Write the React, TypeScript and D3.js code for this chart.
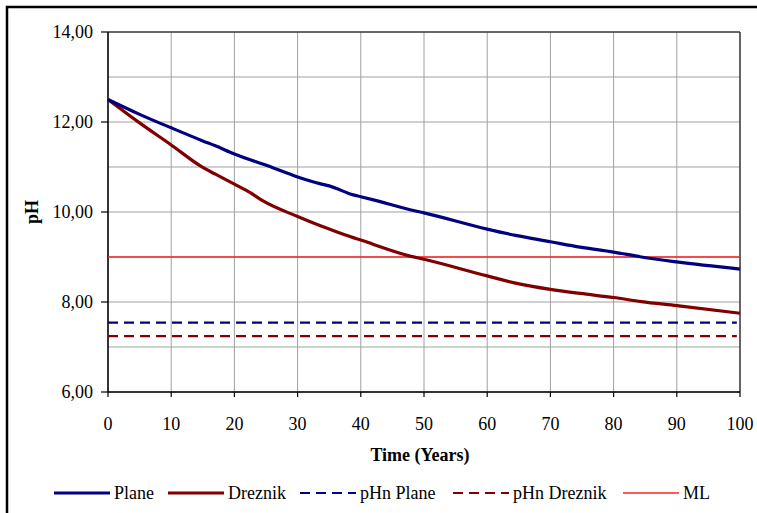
import * as React from 'react';
import { scaleLinear, line, range, curveMonotoneX } from 'd3';

// years sampled along the curves
const years = [0, 5, 10, 15, 17, 20, 22.5, 24.6, 30, 33.5, 35, 38.8, 40, 42, 47.8, 50, 60, 64.5, 70, 74.7, 80, 84.4, 90, 100];
const plane = [12.5, 12.17, 11.87, 11.58, 11.47, 11.29, 11.16, 11.06, 10.78, 10.63, 10.58, 10.38, 10.34, 10.27, 10.05, 9.98, 9.62, 9.48, 9.34, 9.22, 9.11, 9.0, 8.89, 8.73];
const dreznik = [12.5, 11.98, 11.49, 10.99, 10.84, 10.62, 10.43, 10.24, 9.9, 9.7, 9.62, 9.43, 9.38, 9.28, 9.02, 8.95, 8.58, 8.42, 8.28, 8.19, 8.1, 8.01, 7.92, 7.75];
const pHnPlane = 7.54;
const pHnDreznik = 7.24;
const mlLevel = 9.0;

const xTicks = [0, 10, 20, 30, 40, 50, 60, 70, 80, 90, 100];
const yTicks = [6, 8, 10, 12, 14];
const yGrid = range(6, 15, 1);

const legendItems = [
    { label: 'Plane', color: '#000080', dash: '', width: 3.2, x: 54 },
    { label: 'Dreznik', color: '#800000', dash: '', width: 3.2, x: 168 },
    { label: 'pHn Plane', color: '#000080', dash: '10,6', width: 2.2, x: 300 },
    { label: 'pHn Dreznik', color: '#800000', dash: '10,6', width: 2.2, x: 453 },
    { label: 'ML', color: '#ff2020', dash: '', width: 1.6, x: 623 },
];

const font = '"Liberation Serif", "Times New Roman", serif';

const App = () => {
    const margin = { left: 108, top: 32, right: 740, bottom: 392 };
    const x = scaleLinear().domain([0, 100]).range([margin.left, margin.right]);
    const y = scaleLinear().domain([6, 14]).range([margin.bottom, margin.top]);

    const lineGen = line<[number, number]>()
        .x((d) => x(d[0]))
        .y((d) => y(d[1]))
        .curve(curveMonotoneX);

    const planePath = lineGen(years.map((t, i) => [t, plane[i]]));
    const dreznikPath = lineGen(years.map((t, i) => [t, dreznik[i]]));

    return (
        <svg width={757} height={513} style={{ position: 'absolute', left: 0, top: 0, background: '#fff' }}>
            <rect x={7} y={7} width={800} height={600} fill="#fff" stroke="#000" strokeWidth={2.5} />

            {/* grid */}
            {yGrid.map((v) => (
                <line key={'gy' + v} x1={x(0)} x2={x(100)} y1={y(v)} y2={y(v)} stroke="#a0a0a0" strokeWidth={1} />
            ))}
            {xTicks.map((v) => (
                <line key={'gx' + v} x1={x(v)} x2={x(v)} y1={y(6)} y2={y(14)} stroke="#a0a0a0" strokeWidth={1} />
            ))}
            <line x1={x(0)} x2={x(100)} y1={y(14)} y2={y(14)} stroke="#000" strokeWidth={1.2} />
            <line x1={x(100)} x2={x(100)} y1={y(6)} y2={y(14)} stroke="#404040" strokeWidth={1.5} />

            {/* axes */}
            <line x1={x(0)} x2={x(0)} y1={y(6)} y2={y(14)} stroke="#000" strokeWidth={1.5} />
            <line x1={x(0)} x2={x(100)} y1={y(6)} y2={y(6)} stroke="#000" strokeWidth={1.5} />
            {yTicks.map((v) => (
                <g key={'ty' + v}>
                    <line x1={x(0) - 7} x2={x(0)} y1={y(v)} y2={y(v)} stroke="#000" strokeWidth={1.2} />
                    <text x={x(0) - 15} y={y(v)} dy="0.33em" textAnchor="end" fontFamily={font} fontSize={18}>
                        {v.toFixed(2).replace('.', ',')}
                    </text>
                </g>
            ))}
            {xTicks.map((v) => (
                <g key={'tx' + v}>
                    <line x1={x(v)} x2={x(v)} y1={y(6)} y2={y(6) + 5} stroke="#000" strokeWidth={1.2} />
                    <text x={x(v)} y={430} textAnchor="middle" fontFamily={font} fontSize={18}>
                        {v}
                    </text>
                </g>
            ))}

            {/* reference lines */}
            <line x1={x(0)} x2={x(99.5)} y1={y(pHnPlane)} y2={y(pHnPlane)} stroke="#000080" strokeWidth={2.2} strokeDasharray="10,6" />
            <line x1={x(0)} x2={x(99.5)} y1={y(pHnDreznik)} y2={y(pHnDreznik)} stroke="#800000" strokeWidth={2.2} strokeDasharray="10,6" />
            <line x1={x(0)} x2={x(100)} y1={y(mlLevel)} y2={y(mlLevel)} stroke="#ff2020" strokeWidth={1.6} />

            {/* series */}
            <path d={dreznikPath || ''} fill="none" stroke="#800000" strokeWidth={3.2} strokeLinejoin="round" />
            <path d={planePath || ''} fill="none" stroke="#000080" strokeWidth={3.2} strokeLinejoin="round" />

            {/* titles */}
            <text x={420} y={461} textAnchor="middle" fontFamily={font} fontSize={18} fontWeight="bold">
                Time (Years)
            </text>
            <text transform="translate(38,212) rotate(-90)" textAnchor="middle" fontFamily={font} fontSize={18} fontWeight="bold">
                pH
            </text>

            {/* legend */}
            {legendItems.map((d) => (
                <g key={d.label}>
                    <line x1={d.x} x2={d.x + 56} y1={493} y2={493} stroke={d.color} strokeWidth={d.width} strokeDasharray={d.dash || undefined} />
                    <text x={d.x + 60} y={499} fontFamily={font} fontSize={18}>
                        {d.label}
                    </text>
                </g>
            ))}
        </svg>
    );
};

export default App;
